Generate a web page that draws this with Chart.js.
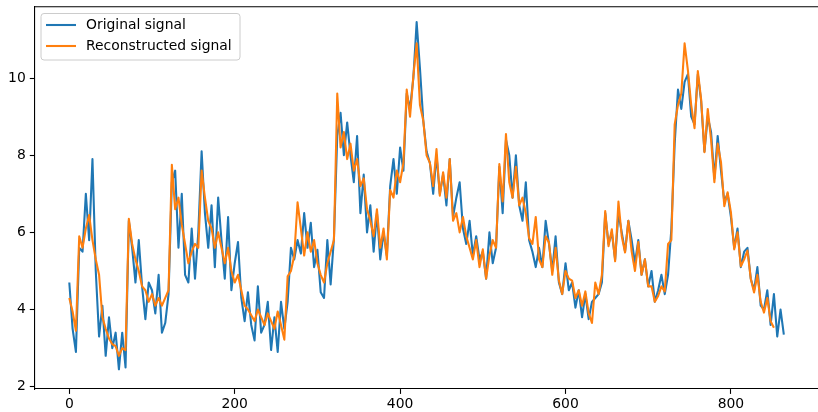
<!DOCTYPE html>
<html>
<head>
<meta charset="utf-8">
<script src="https://cdn.jsdelivr.net/npm/chart.js@4.4.1/dist/chart.umd.min.js"></script>
<style>
  html, body { margin: 0; padding: 0; background: #fff; }
  #wrap { width: 818px; height: 412px; position: relative; }
  canvas { display: block; }
</style>
</head>
<body>
<div id="wrap"><canvas id="c" width="818" height="412"></canvas></div>
<script>
// ---- data ----
const seriesLabels = ['Original signal', 'Reconstructed signal'];
const sampleStep = 4;
const originalSignal = [
  4.7, 3.5, 2.9, 5.6, 5.5, 7.0, 5.8, 7.9, 5.0, 3.3,
  4.1, 2.8, 3.8, 3.0, 3.4, 2.45, 3.4, 2.5, 6.3, 5.6,
  4.7, 5.8, 4.6, 3.75, 4.7, 4.5, 3.9, 4.9, 3.4, 3.65,
  4.4, 7.3, 7.6, 5.6, 7.0, 4.9, 4.7, 6.1, 4.8, 6.0,
  8.1, 6.5, 5.6, 6.7, 5.1, 6.9, 5.8, 4.8, 6.4, 4.5,
  5.2, 5.75, 4.3, 3.7, 4.45, 3.6, 3.2, 4.6, 3.4, 3.6,
  4.2, 2.95, 3.8, 2.9, 4.2, 3.5, 4.2, 5.6, 5.3, 5.8,
  5.45, 6.5, 5.6, 6.25, 5.1, 5.55, 4.45, 4.3, 5.8, 4.65,
  5.85, 8.5, 9.1, 8.0, 8.85, 8.0, 7.3, 8.5, 6.5, 7.5,
  6.0, 6.7, 5.5, 6.5, 5.3, 6.0, 5.4, 7.2, 7.9, 7.0,
  8.2, 7.6, 9.6, 9.2, 10.0, 11.45, 10.25, 8.9, 8.1, 7.8,
  7.0, 8.0, 7.0, 7.5, 6.7, 7.9, 6.4, 6.9, 7.3, 6.1,
  5.7, 6.3, 5.4, 5.9, 5.3, 5.5, 4.8, 6.0, 5.2, 5.6,
  7.7, 6.5, 8.4, 8.0, 6.9, 8.0, 6.7, 6.3, 7.3, 5.8,
  5.5, 5.1, 5.6, 5.1, 6.3, 5.7, 5.0, 5.9, 4.7, 4.4,
  5.2, 4.5, 4.7, 4.05, 4.5, 3.8, 4.4, 3.75, 4.2, 4.3,
  4.4, 4.7, 6.5, 5.7, 6.0, 5.3, 6.5, 6.0, 5.5, 6.3,
  5.8, 5.2, 5.8, 4.9, 5.3, 4.6, 5.0, 4.2, 4.5, 4.9,
  4.4, 4.9, 6.1, 8.3, 9.7, 9.2, 9.9, 10.1, 9.0, 8.8,
  10.1, 9.4, 8.1, 9.0, 8.6, 7.4, 8.5, 7.6, 6.8, 7.0,
  6.4, 5.6, 6.1, 5.1, 5.5, 5.6, 4.8, 4.5, 5.1, 4.1,
  4.0, 4.5, 3.6, 4.4, 3.3, 4.0, 3.35
];
const reconstructedSignal = [
  4.3, 3.95, 3.45, 5.9, 5.6, 6.1, 6.45, 5.8, 5.3, 4.9,
  3.8, 3.5, 3.25, 3.1, 3.05, 2.8, 3.0, 2.95, 6.35, 5.7,
  5.3, 5.0, 4.6, 4.5, 4.2, 4.4, 4.1, 4.3, 4.1, 4.3,
  4.5, 7.75, 6.6, 6.9, 6.2, 5.7, 5.2, 5.5, 5.7, 5.6,
  7.6, 6.9, 6.3, 6.1, 5.6, 6.0, 5.6, 5.2, 5.6, 5.0,
  4.7, 4.9, 4.5, 4.1, 4.0, 3.85, 3.7, 4.0, 3.8, 3.6,
  3.9, 3.7, 3.5, 3.95, 3.6, 3.22, 4.86, 5.0, 5.4, 6.78,
  6.1, 5.4, 6.0, 5.5, 5.8, 5.2, 4.9, 4.7, 5.2, 5.5,
  5.8, 9.6, 8.2, 8.6, 7.9, 8.3, 7.6, 7.9, 7.2, 7.4,
  6.6, 6.3, 5.9, 6.6, 5.6, 6.1, 5.3, 7.1, 6.9, 7.6,
  7.3, 7.8, 9.7, 9.0, 10.05, 10.9, 9.3, 8.9, 8.0, 7.8,
  7.2, 8.16, 6.95, 7.56, 6.9, 7.9, 6.3, 6.5, 6.0, 6.4,
  5.9, 5.6, 5.3, 5.8, 5.1, 5.56, 4.8, 5.4, 5.8, 5.6,
  7.77, 6.8, 8.55, 7.3, 6.9, 7.7, 6.7, 6.9, 6.5, 5.85,
  5.7, 6.4, 5.3, 5.1, 5.9, 5.74, 4.9, 5.6, 4.75, 4.4,
  5.0, 4.8, 4.75, 4.3, 4.5, 4.1, 4.47, 3.9, 3.65, 4.7,
  4.4, 4.9, 6.55, 5.64, 6.08, 5.25, 6.8, 5.9, 5.48, 6.3,
  5.5, 5.0, 5.75, 4.9, 5.3, 4.6, 4.6, 4.2, 4.35, 4.6,
  4.47, 5.7, 5.8, 8.8, 9.3, 9.6, 10.9, 10.2, 9.3, 8.7,
  10.18, 9.45, 8.08, 9.2, 8.4, 7.3, 8.3, 7.82, 6.68, 7.04,
  6.52, 5.56, 6.0, 5.12, 5.3, 5.53, 4.8, 4.44, 4.9, 4.2,
  3.92, 4.3, 3.7, 3.53, null, null, null
];
const xTickValues = [0, 200, 400, 600, 800];
const yTickValues = [2, 4, 6, 8, 10];

// sample index for each value
const sampleIndex = originalSignal.map((_, i) => i * sampleStep);

const toPoints = (arr) => arr.map((v, i) => ({ x: sampleIndex[i], y: v }));

const FONT = 'DejaVu Sans';
const COLORS = ['#1f77b4', '#ff7f0e'];

const framePlugin = {
  id: 'frame',
  afterDraw(chart) {
    const { ctx, chartArea } = chart;
    ctx.save();
    ctx.strokeStyle = '#000';
    ctx.lineWidth = 1.1;
    ctx.beginPath();
    ctx.moveTo(chartArea.left, chartArea.top);
    ctx.lineTo(chartArea.right + 2, chartArea.top);
    ctx.stroke();
    ctx.restore();

    // legend (upper left, matplotlib style)
    const bx = 41, by = 13.5, bw = 199, bh = 46.5, r = 3;
    ctx.save();
    ctx.fillStyle = 'rgba(255,255,255,0.8)';
    ctx.strokeStyle = '#cccccc';
    ctx.lineWidth = 1;
    ctx.beginPath();
    ctx.moveTo(bx + r, by);
    ctx.lineTo(bx + bw - r, by);
    ctx.arcTo(bx + bw, by, bx + bw, by + r, r);
    ctx.lineTo(bx + bw, by + bh - r);
    ctx.arcTo(bx + bw, by + bh, bx + bw - r, by + bh, r);
    ctx.lineTo(bx + r, by + bh);
    ctx.arcTo(bx, by + bh, bx, by + bh - r, r);
    ctx.lineTo(bx, by + r);
    ctx.arcTo(bx, by, bx + r, by, r);
    ctx.closePath();
    ctx.fill();
    ctx.stroke();
    const rows = [25, 46];
    chart.data.datasets.forEach((ds, i) => {
      const y = rows[i];
      ctx.strokeStyle = ds.borderColor;
      ctx.lineWidth = 2.08;
      ctx.beginPath();
      ctx.moveTo(46, y);
      ctx.lineTo(76, y);
      ctx.stroke();
      ctx.fillStyle = '#000';
      ctx.font = '13.9px "' + FONT + '"';
      ctx.textAlign = 'left';
      ctx.textBaseline = 'middle';
      ctx.fillText(ds.label, 86, y + 0.5);
    });
    ctx.restore();
  }
};

new Chart(document.getElementById('c'), {
  type: 'line',
  data: {
    datasets: [
      {
        label: seriesLabels[0],
        data: toPoints(originalSignal),
        borderColor: COLORS[0],
        backgroundColor: COLORS[0],
        borderWidth: 2.08,
        pointRadius: 0,
        tension: 0,
        borderJoinStyle: 'round',
        fill: false,
        order: 2
      },
      {
        label: seriesLabels[1],
        data: toPoints(reconstructedSignal),
        borderColor: COLORS[1],
        backgroundColor: COLORS[1],
        borderWidth: 2.08,
        pointRadius: 0,
        tension: 0,
        borderJoinStyle: 'round',
        fill: false,
        spanGaps: false,
        order: 1
      }
    ]
  },
  options: {
    responsive: false,
    animation: false,
    devicePixelRatio: 1,
    layout: { padding: { top: 6.7, left: 0, right: 0, bottom: 0 } },
    plugins: {
      legend: { display: false },
      tooltip: { enabled: false },
      title: { display: false }
    },
    scales: {
      x: {
        type: 'linear',
        min: -41.84,
        max: 905.3,
        afterFit(scale) {
          scale.height = 23;
          scale.paddingLeft = 0; scale.paddingRight = 0;
          scale.paddingTop = 0; scale.paddingBottom = 0;
        },
        afterBuildTicks(scale) { scale.ticks = xTickValues.map(v => ({ value: v })); },
        grid: { display: true, drawOnChartArea: false, drawTicks: true, tickLength: 4.9, tickColor: '#000', tickWidth: 1.1 },
        border: { display: true, color: '#000', width: 1.1 },
        ticks: {
          color: '#000',
          font: { family: FONT, size: 13.9 },
          padding: 2,
          maxRotation: 0,
          autoSkip: false,
          callback: (v) => String(v)
        }
      },
      y: {
        type: 'linear',
        min: 1.94,
        max: 11.85,
        afterFit(scale) {
          scale.width = 34.7;
          scale.paddingLeft = 0; scale.paddingRight = 0;
          scale.paddingTop = 0; scale.paddingBottom = 0;
        },
        afterBuildTicks(scale) { scale.ticks = yTickValues.map(v => ({ value: v })); },
        grid: { display: true, drawOnChartArea: false, drawTicks: true, tickLength: 4.9, tickColor: '#000', tickWidth: 1.1 },
        border: { display: true, color: '#000', width: 1.1 },
        ticks: {
          color: '#000',
          font: { family: FONT, size: 13.9 },
          padding: 4,
          autoSkip: false,
          callback: (v) => String(v)
        }
      }
    }
  },
  plugins: [framePlugin]
});
</script>
</body>
</html>
